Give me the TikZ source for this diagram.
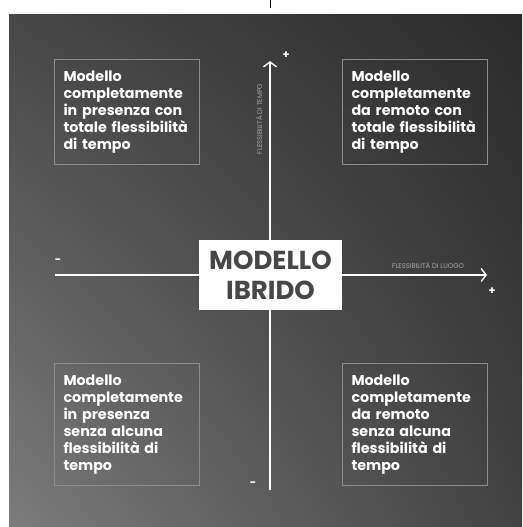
\documentclass[tikz,border=0pt]{standalone}
\usepackage{fontspec}
\setsansfont{Poppins}
\usepackage{xcolor}
\usepackage{tikz}
\usetikzlibrary{arrows.meta,shadings}
\definecolor{boxgray}{HTML}{8C8C8C}
\definecolor{labgray}{HTML}{A8A8A8}
\definecolor{hubtext}{HTML}{474747}
\definecolor{bgUL}{HTML}{474747}
\definecolor{bgUR}{HTML}{2B2B2B}
\definecolor{bgLL}{HTML}{7C7C7C}
\definecolor{bgLR}{HTML}{424242}
\tikzset{axis/.style = {draw=white, line width=1.4pt, -{Straight Barb[length=5pt,width=13pt,line width=1.4pt]}}}

\begin{document}
\begin{tikzpicture}[x=1pt,y=-1pt,
  quad box/.style={draw=boxgray,line width=1pt,text=white,anchor=north west,align=left,
    text width=127pt,inner xsep=9pt,inner ysep=6pt,minimum height=105pt,
    font=\sffamily\bfseries\fontsize{14.3}{17}\selectfont},
  hub/.style={fill=white,text=hubtext,align=center,minimum width=143pt,minimum height=70pt,
    inner sep=0pt,font=\sffamily\bfseries\fontsize{26}{30}\selectfont},
  sign/.style={text=white,font=\sffamily\bfseries\fontsize{11}{11}\selectfont,inner sep=0pt},
  axis label/.style={text=labgray,font=\sffamily\fontsize{6.8}{7}\selectfont,inner sep=0pt}]
  \useasboundingbox (0,0) rectangle (522,527);
  \draw[black,line width=1pt] (270,0) -- (270,8);
  \shade[upper left=bgUL,upper right=bgUR,lower left=bgLL,lower right=bgLR]
    (9,15) rectangle (522,527);

  \coordinate (left) at (55,275);
  \coordinate (right) at (487,275);
  \coordinate (bottom) at (270,490);
  \coordinate (top) at (270,61);
  \draw[axis] (left) -- (right);
  \draw[axis] (bottom) -- (top);

  \node[hub] (hub) at (270.5,275) {MODELLO\\IBRIDO};

  \node[quad box] (tl) at (54,59) {Modello\\completamente\\in presenza con\\totale flessibilità\\di tempo};
  \node[quad box] (tr) at (342,59) {Modello\\completamente\\da remoto con\\totale flessibilità\\di tempo};
  \node[quad box,minimum height=122pt] (bl) at (54,363) {Modello\\completamente\\in presenza\\senza alcuna\\flessibilità di\\tempo};
  \node[quad box,minimum height=122pt] (br) at (342,363) {Modello\\completamente\\da remoto\\senza alcuna\\flessibilità di\\tempo};

  \node[axis label] (place) at (428,265) {FLESSIBILITÀ DI LUOGO};
  \node[axis label,rotate=90] (time) at (259,119) {FLESSIBILITÀ DI TEMPO};

  \node[sign] (xplus) at (492,291) {+};
  \node[sign] (xminus) at (58,261) {-};
  \node[sign] (yplus) at (286,55) {+};
  \node[sign] (yminus) at (253,484) {-};
\end{tikzpicture}
\end{document}
